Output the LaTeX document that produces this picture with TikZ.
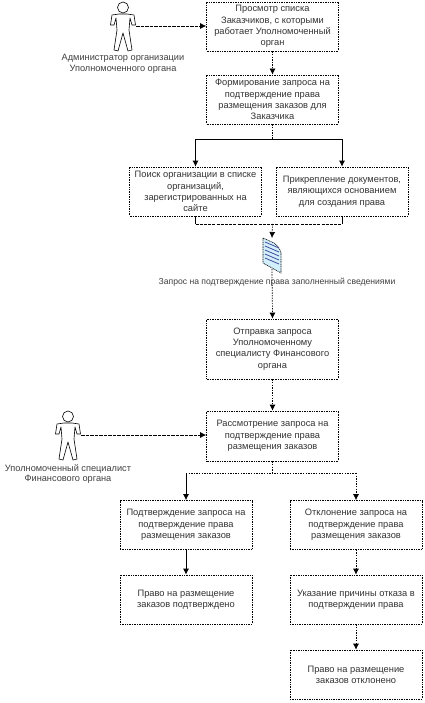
\documentclass[tikz,border=0pt]{standalone}
\usepackage{fontspec}
\setmainfont{Liberation Sans}
\usetikzlibrary{arrows.meta}
\tikzset{
  x=1pt,y=-1pt,
  stepbox/.style={draw=black,line width=0.7pt,dash pattern=on 1pt off 0.7pt,fill=white,align=center,
    minimum width=132pt,minimum height=49pt,inner sep=1pt,font=\fontsize{9.3}{11.3}\selectfont,text=black!80},
  actorlabel/.style={align=center,font=\fontsize{9.2}{10.6}\selectfont,text=black!75,inner sep=0pt},
  flow/.style={draw=black,line width=0.7pt,-{Latex[length=6pt,width=6pt]}},
  dotflow/.style={flow,dash pattern=on 1.4pt off 1.2pt},
  dashflow/.style={flow,dash pattern=on 3.5pt off 1pt},
  dotline/.style={draw=black,line width=0.7pt,dash pattern=on 1.4pt off 1.2pt},
  dashline/.style={draw=black,line width=0.7pt,dash pattern=on 3pt off 1.2pt},
  solidline/.style={draw=black,line width=0.8pt},
  solidflow/.style={flow,line width=0.8pt},
  actorbody/.style={draw=black,line width=0.6pt,fill=white,line join=round},
}
\newcommand{\actorfig}[3]{% name, x, top y
  \begin{scope}[shift={(#2,#3)}]
    \draw[actorbody] (-4,12) -- (-11,13) -- (-12.5,23) -- (-9,23) -- (-7,16) -- (-6,28) -- (-9,48) -- (-5,49) -- (0,31) -- (5,49) -- (9,48) -- (6,28) -- (7,16) -- (9,23) -- (12.5,23) -- (11,13) -- (4,12) -- cycle;
    \draw[actorbody] (0,5.5) circle (5.5);
    \coordinate (#1) at (13,24);
  \end{scope}}
\begin{document}
\begin{tikzpicture}
\useasboundingbox[fill=white] (0,0) rectangle (425,703);
\node[stepbox] (b1) at (272.5,26.5) {Просмотр списка\\Заказчиков, с которыми\\работает Уполномоченный\\орган};
\node[stepbox] (b2) at (272.5,99.5) {Формирование запроса на\\подтверждение права\\размещения заказов для\\Заказчика};
\node[stepbox] (b3) at (195.5,191.5) {Поиск организации в списке\\организаций,\\зарегистрированных на\\сайте};
\node[stepbox] (b4) at (342,191.5) {Прикрепление документов,\\являющихся основанием\\для создания права};
\node[stepbox,minimum height=60pt] (b5) at (272.5,349) {Отправка запроса\\Уполномоченному\\специалисту Финансового\\органа};
\node[stepbox,minimum height=50pt] (b6) at (272.5,436) {Рассмотрение запроса на\\подтверждение права\\размещения заказов};
\node[stepbox] (b7) at (186,525) {Подтверждение запроса на\\подтверждение права\\размещения заказов};
\node[stepbox] (b8) at (356,525) {Отклонение запроса на\\подтверждение права\\размещения заказов};
\node[stepbox] (b9) at (186,599.5) {Право на размещение\\заказов подтверждено};
\node[stepbox] (b10) at (356,599.5) {Указание причины отказа в\\подтверждении права};
\node[stepbox] (b11) at (356,674.5) {Право на размещение\\заказов отклонено};

\actorfig{a1}{123}{2}
\actorfig{a2}{68}{411}
\node[actorlabel] (l1) at (123,64) {Администратор организации\\Уполномоченного органа};
\node[actorlabel] (l2) at (68,474) {Уполномоченный специалист\\Финансового органа};

% document
\begin{scope}
  \draw[draw=black,line width=0.6pt,dash pattern=on 1pt off 0.7pt,fill=cyan!18] (263,238) -- (274,243) .. controls (278,246) and (280,249) .. (281,253) -- (281,273) -- (263,263) -- cycle;
  \foreach \y in {246,250,254,258,262}{\draw[blue!45!black!70,line width=0.8pt] (265,\y-4) -- (279,\y+2);}
  \coordinate (doctop) at (272,238);
  \coordinate (docbot) at (272,269);
\end{scope}
\node[actorlabel,font=\fontsize{8.6}{10.6}\selectfont] (l3) at (277,282) {Запрос на подтверждение права заполненный сведениями};

\draw[dashflow] (a1) -- (b1.west |- a1);
\draw[dotflow] (b1) -- (b2);
\coordinate (j1) at (272.5,139);
\draw[dotline] (b2.south) -- (j1);
\draw[solidflow] (j1) -| (b3.north);
\draw[solidflow] (j1) -| (b4.north);
\coordinate (j2) at (272.5,224);
\draw[solidline] (b3.south) -- (b3.south |- j2);
\draw[solidline] (b4.south) -- (b4.south |- j2);
\draw[dashline] (b3.south |- j2) -- (b4.south |- j2);
\draw[dotflow] (j2) -- (doctop);
\draw[dotflow] (docbot) -- (b5.north);
\draw[dotflow] (b5) -- (b6);
\draw[dashflow] (a2) -- (b6.west |- a2);
\coordinate (j3) at (272.5,473);
\draw[dotline] (b6.south) -- (j3);
\draw[dotline] (b7.north |- j3) -- (b8.north |- j3);
\draw[solidflow] (b7.north |- j3) -- (b7.north);
\draw[dotflow] (b8.north |- j3) -- (b8.north);
\draw[solidflow] (b7) -- (b9);
\draw[dotflow] (b8) -- (b10);
\draw[dotflow] (b10) -- (b11);
\end{tikzpicture}
\end{document}
